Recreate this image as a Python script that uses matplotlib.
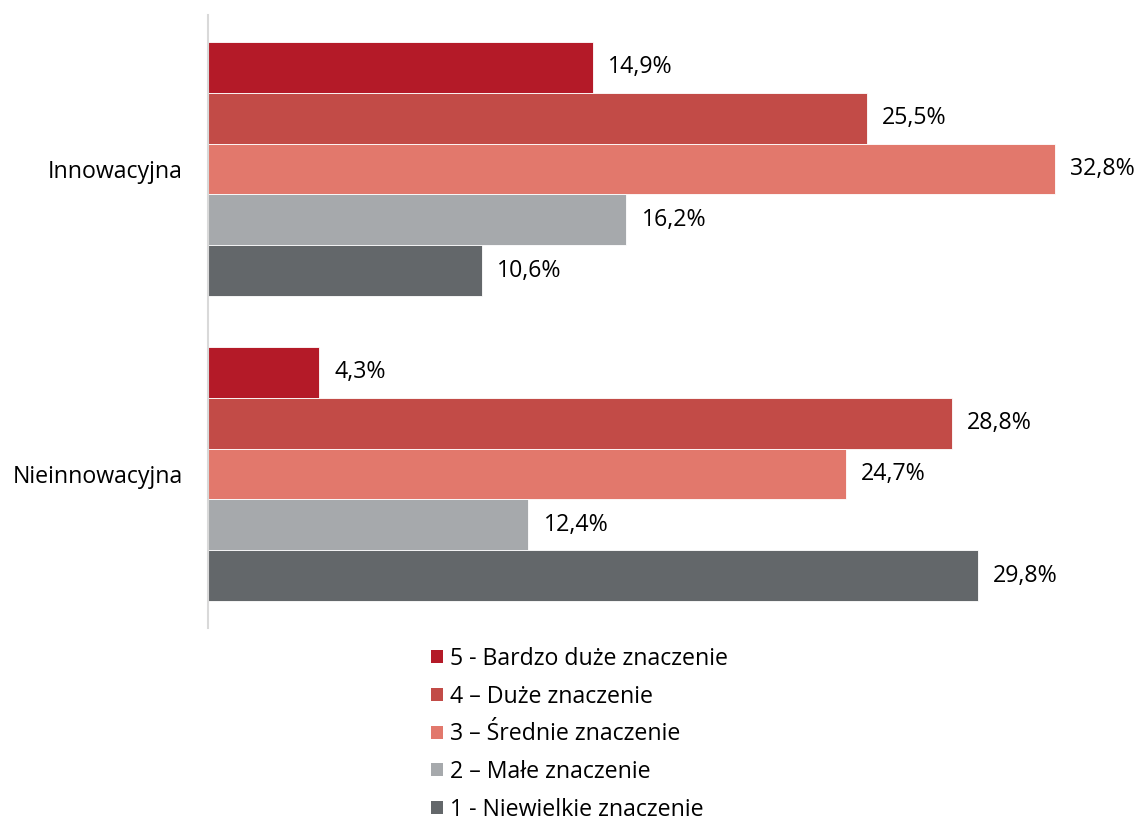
import numpy as np
import matplotlib.pyplot as plt
from matplotlib.patches import Patch

# %% Data
groups = ['Innowacyjna', 'Nieinnowacyjna']
levels = ['5 - Bardzo duże znaczenie', '4 – Duże znaczenie', '3 – Średnie znaczenie',
          '2 – Małe znaczenie', '1 - Niewielkie znaczenie']
values_innow = [14.9, 25.5, 32.8, 16.2, 10.6]
values_nieinnow = [4.3, 28.8, 24.7, 12.4, 29.8]
colors = ['#B41A28', '#C24B47', '#E2786C', '#A6A9AC', '#63676A']

# %% Plot
plt.rcParams['font.family'] = ['Open Sans', 'DejaVu Sans']
FS = 16.7
fig = plt.figure(figsize=(11.37, 8.24), dpi=100)
ax = fig.add_axes([208/1137, 196/824, (1112-208)/1137, 613/824])

centers = [0, 6]
data = [values_innow, values_nieinnow]
for c, vals in zip(centers, data):
    for j, v in enumerate(vals):
        y = c + (j - 2)
        ax.barh(y, v, height=1.0, color=colors[j], edgecolor='white', linewidth=0.6)
        ax.annotate(f'{v:.1f}%'.replace('.', ','), (v, y), xytext=(11, 0),
                    textcoords='offset points', va='center', ha='left', fontsize=FS)

ax.set_xlim(0, 35)
ax.set_ylim(9.03, -3.03)
ax.set_yticks(centers)
ax.set_yticklabels(groups, fontsize=FS)
ax.tick_params(axis='y', length=0, pad=18)
ax.set_xticks([])
for s in ['top', 'right', 'bottom']:
    ax.spines[s].set_visible(False)
ax.spines['left'].set_color('#D9D9D9')
ax.spines['left'].set_linewidth(1.5)

handles = [Patch(facecolor=col, edgecolor='none') for col in colors]
fig.legend(handles, levels, loc='upper left', bbox_to_anchor=(431/1137, 1 - 647/824),
           frameon=False, fontsize=FS, handlelength=0.5, handleheight=0.5,
           handletextpad=0.3, labelspacing=0.59, borderaxespad=0, borderpad=0)

fig.savefig('out.png', dpi=100)
